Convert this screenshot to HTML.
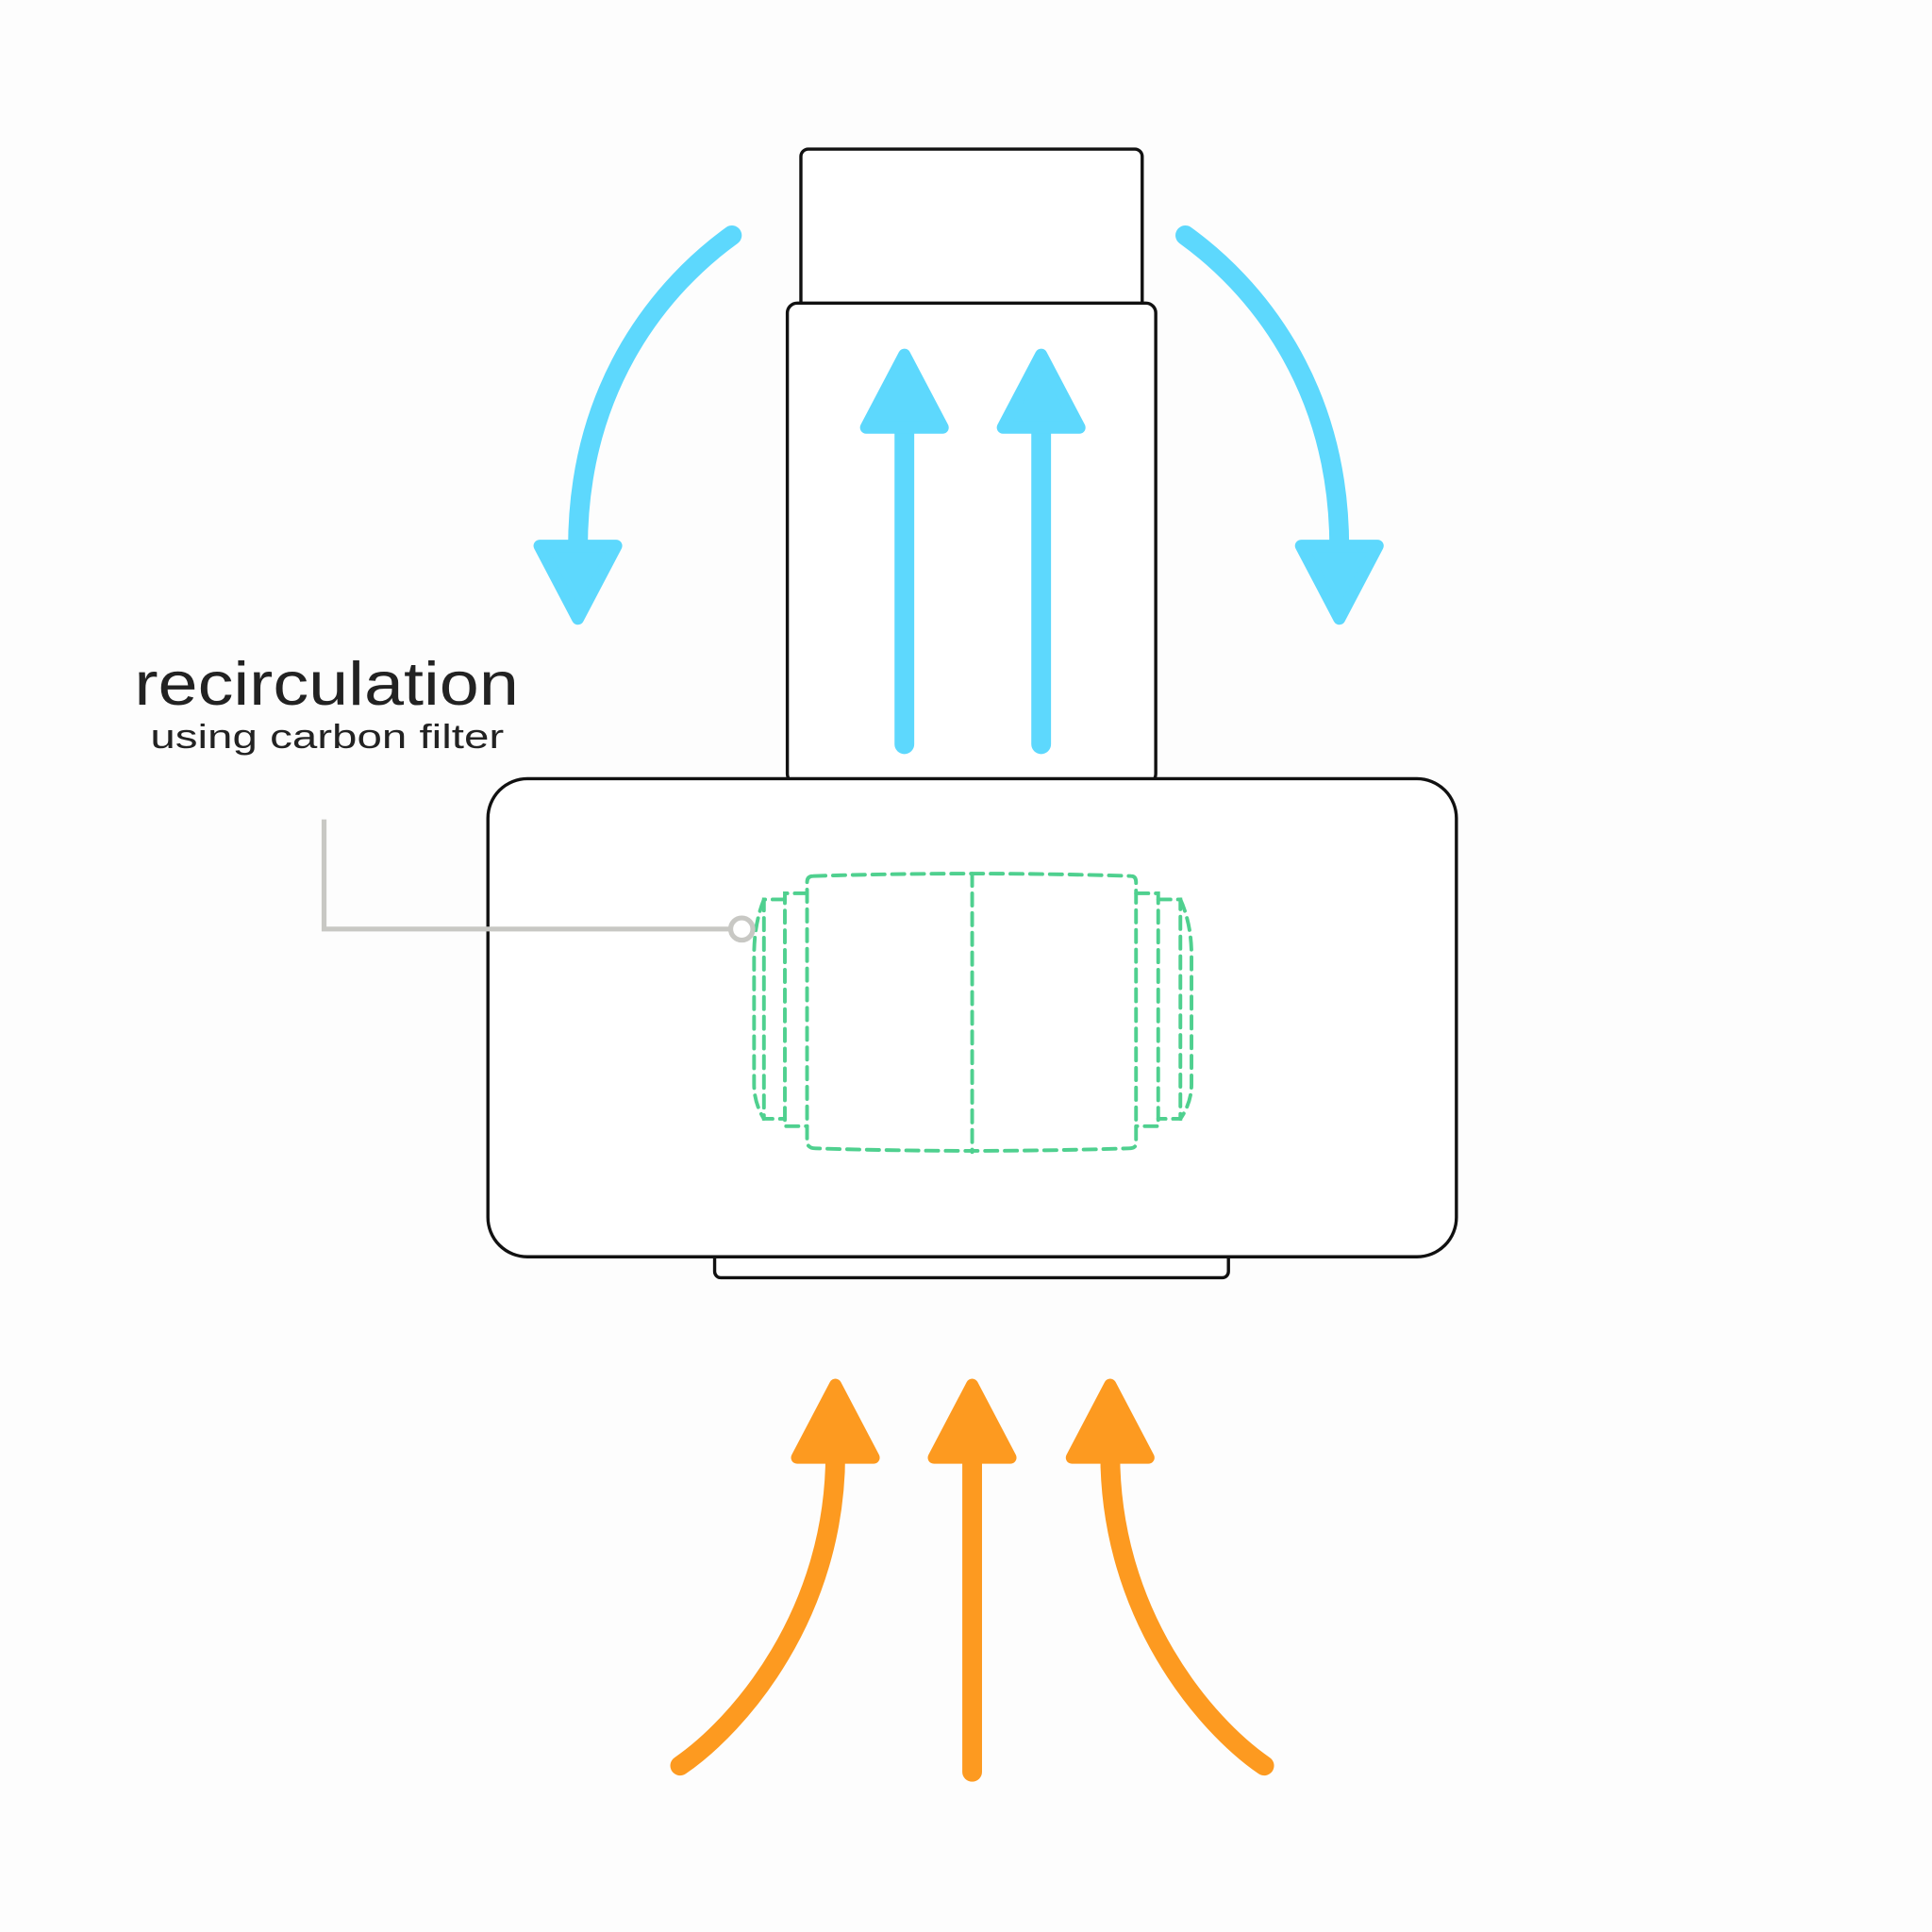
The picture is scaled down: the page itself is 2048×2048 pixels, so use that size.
<!DOCTYPE html>
<html><head><meta charset="utf-8"><style>
html,body{margin:0;padding:0;background:#fdfdfd;}
svg{display:block;}
</style></head><body>
<svg width="2048" height="2048" viewBox="0 0 1568 1568" xmlns="http://www.w3.org/2000/svg">
<rect width="1568" height="1568" fill="#fdfdfd"/>
<!-- housing -->
<g fill="#fff" stroke="#111" stroke-width="2.6">
<rect x="580" y="1010" width="417" height="27" rx="5"/>
<rect x="650" y="121" width="277" height="130" rx="6"/>
<rect x="639" y="246" width="299" height="390" rx="8"/>
<rect x="396" y="632" width="786" height="388" rx="32"/>
</g>
<!-- filter -->
<g fill="none" stroke="#4fd08f" stroke-width="3" stroke-dasharray="10 6" stroke-linecap="round">
<path d="M660,711 Q789,707 918,711 Q922,711 922,716 V928 Q922,932 916,932 Q789,936 662,932 Q655,932 655,926 V716 Q655,711 660,711 Z"/>
<path d="M789,709 V935"/>
<path d="M655,725 H637 V914 H655"/>
<path d="M637,730 H620 V908 H637"/>
<path d="M620,730 Q612,750 612,775 V880 Q612,895 620,908"/>
<path d="M922,725 H940 V914 H922"/>
<path d="M940,730 H958 V908 H940"/>
<path d="M958,730 Q967,750 967,775 V880 Q967,895 958,908"/>
</g>
<!-- leader -->
<path d="M263,665 V754 H593" fill="none" stroke="#c8c8c4" stroke-width="4"/>
<circle cx="602" cy="754" r="9" fill="none" stroke="#c8c8c4" stroke-width="4"/>
<!-- blue arrows -->
<g stroke="#5dd8fd" fill="none" stroke-width="16" stroke-linecap="round">
<path d="M734,604 V345"/>
<path d="M845,604 V345"/>
<path d="M594,191 C540,230 469,310 469,445"/>
<path d="M962,191 C1016,230 1087,310 1087,445"/>
</g>
<g fill="#5dd8fd" stroke="#5dd8fd" stroke-width="10" stroke-linejoin="round">
<polygon points="734,288 703,347 765,347"/>
<polygon points="845,288 814,347 876,347"/>
<polygon points="469,502 438,443 500,443"/>
<polygon points="1087,502 1056,443 1118,443"/>
</g>
<!-- orange arrows -->
<g stroke="#fd9a20" fill="none" stroke-width="16" stroke-linecap="round">
<path d="M789,1438 V1180"/>
<path d="M552,1433 C600,1400 678,1310 678,1180"/>
<path d="M1026,1433 C978,1400 901,1310 901,1180"/>
</g>
<g fill="#fd9a20" stroke="#fd9a20" stroke-width="10" stroke-linejoin="round">
<polygon points="678,1124 647,1183 709,1183"/>
<polygon points="789,1124 758,1183 820,1183"/>
<polygon points="901,1124 870,1183 932,1183"/>
</g>
<!-- text -->
<text x="109" y="572" font-family="Liberation Sans, sans-serif" font-size="50" fill="#222" textLength="312" lengthAdjust="spacingAndGlyphs">recirculation</text>
<text x="122" y="607" font-family="Liberation Sans, sans-serif" font-size="28" fill="#222" textLength="287" lengthAdjust="spacingAndGlyphs">using carbon filter</text>
</svg>
</body></html>
